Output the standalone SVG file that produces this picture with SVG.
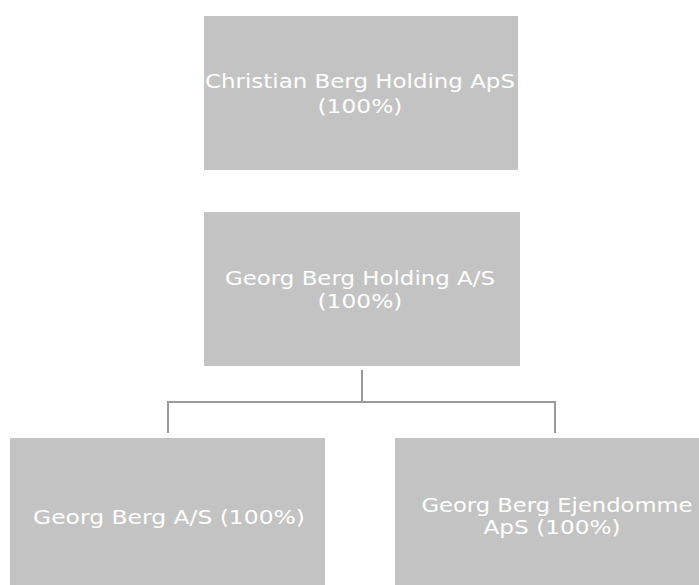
<svg xmlns="http://www.w3.org/2000/svg" width="699" height="585" viewBox="0 0 699 585">
<style>
.box{fill:#c3c3c3;}
.t{font-family:"DejaVu Sans",Verdana,sans-serif;font-size:20px;fill:#ffffff;text-anchor:middle;}
.s{font-size:19px;}
.c{stroke:#9a9a9a;stroke-width:2;fill:none;}
</style>
<rect width="699" height="585" fill="#ffffff"/>
<g id="n1"><rect class="box" x="204" y="16" width="314" height="154"/>
<text class="t" x="360" y="88" textLength="310" lengthAdjust="spacingAndGlyphs">Christian Berg Holding ApS</text>
<text class="t" x="360" y="113" textLength="85" lengthAdjust="spacingAndGlyphs">(100%)</text></g>
<g id="n2"><rect class="box" x="204" y="212" width="316" height="154"/>
<text class="t" x="360" y="285" textLength="270" lengthAdjust="spacingAndGlyphs">Georg Berg Holding A/S</text>
<text class="t" x="360" y="308" textLength="85" lengthAdjust="spacingAndGlyphs">(100%)</text></g>
<g id="n3"><rect class="box" x="10" y="438" width="315" height="147"/>
<text class="t" x="169" y="524" textLength="272" lengthAdjust="spacingAndGlyphs">Georg Berg A/S (100%)</text></g>
<g id="n4"><rect class="box" x="395" y="438" width="304" height="147"/>
<text class="t s" x="557" y="512" textLength="271" lengthAdjust="spacingAndGlyphs">Georg Berg Ejendomme</text>
<text class="t s" x="552" y="534" textLength="137" lengthAdjust="spacingAndGlyphs">ApS (100%)</text></g>
<g id="connectors">
<path class="c" d="M362 370 V402 M168 433 V402 H555 V433"/>
</g>
</svg>
